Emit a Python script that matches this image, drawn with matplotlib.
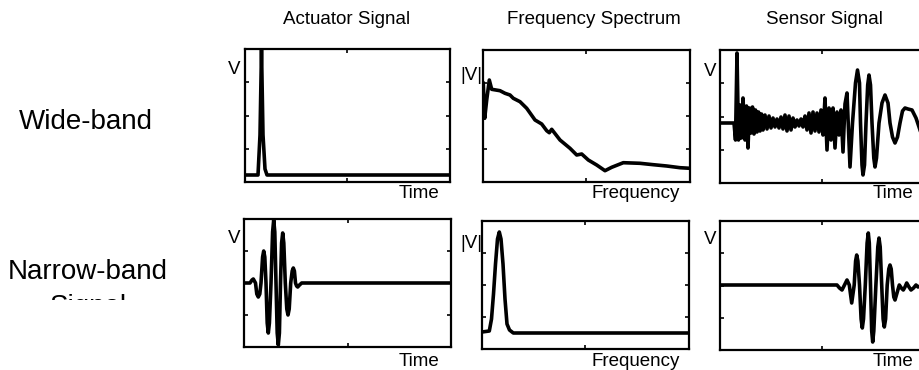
import matplotlib.pyplot as plt
from matplotlib.transforms import Bbox, TransformedBbox

plt.rcParams['font.family'] = ['Liberation Sans', 'DejaVu Sans']

# ---- digitised signals (arbitrary units) ----
# Wide-band actuator signal: single short spike
act_wide_t = [0, 13, 15, 16.5, 18, 20, 22, 205]
act_wide_v = [0, 0, 40, 125, 40, 6, 0, 0]

# Wide-band spectrum
spec_wide_f = [0.3, 1.7, 3.7, 6.3, 8.7, 17, 22, 27, 30.3, 37, 43.7, 52, 58.7, 63.7,
               66.3, 68.7, 77, 87, 93.7, 98.7, 105.3, 113.7, 122, 128.7, 140.3,
               157, 170.3, 183.7, 197, 207]
spec_wide_a = [98.7, 63.7, 82, 102, 92.7, 91.3, 88.7, 87, 83.7, 80.3, 73.7, 62, 58, 51.3,
               49.3, 52.7, 42, 33.7, 27, 28, 22, 17, 11.3, 14.7, 19.3,
               18.7, 17.3, 16, 14.3, 13.7]

# Wide-band sensor signal
sens_wide_t = [0, 14, 15.5, 17, 18.5, 20, 21.5, 23, 25, 26.5, 28, 29.5, 31, 32.5, 34,
               35.5, 37, 38.5, 40, 41.5, 43, 45, 47, 49, 51, 53, 55, 57, 59, 61, 63,
               65, 67, 69, 71, 73, 75, 77, 79, 81, 83, 85, 87, 89, 91, 93, 95, 97, 99,
               101, 103, 105, 107, 109, 111, 113, 115, 117, 119, 121, 123, 125, 127,
               130, 132.5, 135.5, 137.5, 139.5, 140.5, 142, 143, 144.5, 146, 147.7,
               149, 150.5, 152, 153.8, 155, 156.5, 159, 162, 165, 168, 170, 172.5,
               175, 177.5, 180, 182.5, 185, 188, 192, 196, 200, 205]
sens_wide_v = [0, 0, -17, 70, -17, 18, -15, 25, -17, 17, -25, 15, -10, 16, -11,
               13, -9, 11, -8, 9, -7, 8, -6, 7, -5, 5, -4, 4, -5, 6, -6,
               8, -8, 7, -7, 5, -4, 3, -3, 4, -4, 7, -7, 10, -10, 11, -8, 10, -9,
               13, -12, 25, -27, 15, -17, 15, -25, 11, -12, 13, -29, 19, 30,
               -44, 0, 40, 53, 40, 0, -42, -52, -42, 0, 38,
               48, 38, 0, -35, -44, -35, 0, 20, 28, 20, 0, -14,
               -20, -14, 0, 12, 15, 14, 13, 5, -7, -15]

# Narrow-band actuator signal: tone burst
act_narrow_t = [0, 6, 8, 9.3, 11.5, 12.8, 14.3, 15.8, 17, 18.6, 19.7, 20.8, 22, 23.2,
                24.3, 25.4, 27, 28.6, 29.7, 30.8, 32, 33.2, 34.3, 35.4, 36.5, 37.6,
                38.7, 39.8, 41.3, 42.8, 44, 45.2, 46.7, 48.2, 49.3, 50.4, 51.5, 52.6,
                53.7, 55.5, 57.7, 207]
act_narrow_v = [0, 0, 3, 4, 0, -11, -14, -11, 0, 26, 32, 26, 0, -40,
                -50, -40, 0, 51, 63, 51, 0, -50, -62, -50, 0, 40,
                50, 40, 0, -26, -32, -26, 0, 12, 15, 12, 0, -3,
                -4, -2, 0, 0]

# Narrow-band spectrum
spec_narrow_f = [0, 7.3, 9.5, 11.5, 13.5, 15.5, 17.3, 19, 21, 23, 25, 27.5, 31.3, 207]
spec_narrow_a = [17, 18, 30, 55, 85, 110, 117, 110, 85, 50, 25, 19, 16, 16]

# Narrow-band sensor signal
sens_narrow_t = [0, 117, 119.5, 122, 124.5, 127, 129.3, 131.7, 134.2, 135.6, 136.7,
                 137.9, 139.5, 141.1, 142.3, 143.5, 145.3, 147.1, 148.3, 149.3, 150.5,
                 151.7, 152.7, 153.8, 155.9, 157.8, 159, 160.2, 161.7, 163.1, 164.3,
                 165.6, 167.2, 168.8, 170, 171.2, 172.5, 173.8, 175, 177, 179.3, 181.3,
                 183.3, 185, 186.7, 189, 191, 193.5, 196, 198, 200, 205]
sens_narrow_v = [0, 0, -3, -5, 0, 5, 0, -18, 0, 24, 30,
                 24, 0, -34, -43, -34, 0, 42, 52, 42, 0,
                 -46, -57, -46, 0, 38, 47, 38, 0, -34, -42,
                 -34, 0, 16, 20, 16, 0, -12, -15, -8, 0, -3,
                 -5, -2, 2, -2, -5, -3, 0, -2, -1, 0]

W, H = 920, 370
fig = plt.figure(figsize=(W / 100, H / 100), dpi=100)


def px_axes(x0, y0, x1, y1):
    return fig.add_axes([x0 / W, 1 - y1 / H, (x1 - x0) / W, (y1 - y0) / H])


def px_text(x, y, s, size=13.5, **kw):
    return fig.text(x / W, 1 - y / H, s, fontsize=size, ha='center', va='center', **kw)


panels = [
    ((245, 49, 450, 182), act_wide_t, act_wide_v, (0, 205), (-7, 126)),
    ((483, 50, 690, 182), spec_wide_f, spec_wide_a, (0, 207), (0, 132)),
    ((720, 50, 925, 183), sens_wide_t, sens_wide_v, (0, 205), (-60, 73)),
    ((244, 219, 451, 347), act_narrow_t, act_narrow_v, (0, 207), (-64, 64)),
    ((482, 221, 689, 349), spec_narrow_f, spec_narrow_a, (0, 207), (0, 128)),
    ((720, 221, 925, 350), sens_narrow_t, sens_narrow_v, (0, 205), (-65, 64)),
]

for box, x, y, xl, yl in panels:
    ax = px_axes(*box)
    ax.plot(x, y, color='black', lw=2.6, solid_joinstyle='round')
    ax.set_xlim(*xl)
    ax.set_ylim(*yl)
    ax.set_xticks([(xl[0] + xl[1]) / 2])
    ax.set_yticks([yl[0] + (yl[1] - yl[0]) * k / 4 for k in (1, 2, 3)])
    ax.tick_params(direction='in', length=3, width=1.2, top=True, right=True,
                   labelleft=False, labelbottom=False)
    for sp in ax.spines.values():
        sp.set_linewidth(1.6)

# column titles
px_text(347, 20, 'Actuator Signal')
px_text(594, 20, 'Frequency Spectrum')
px_text(824, 20, 'Sensor Signal')

# axis labels
for y_v, y_x in ((70, 193), (239, 361)):
    px_text(234, y_v, 'V')
    px_text(419, y_x, 'Time')
    px_text(471, y_v + 5, '|V|')
    px_text(636, y_x + 1, 'Frequency')
    px_text(710, y_v + 1, 'V')
    px_text(893, y_x + 1, 'Time')

# row labels
px_text(86, 122, 'Wide-band', size=20)
px_text(88, 272, 'Narrow-band', size=20)
sig = px_text(88, 307, 'Signal', size=20)
sig.set_clip_box(TransformedBbox(Bbox([[0, 70 / H], [1, 1]]), fig.transFigure))
sig.set_clip_on(True)

fig.savefig('out.png', dpi=100)
